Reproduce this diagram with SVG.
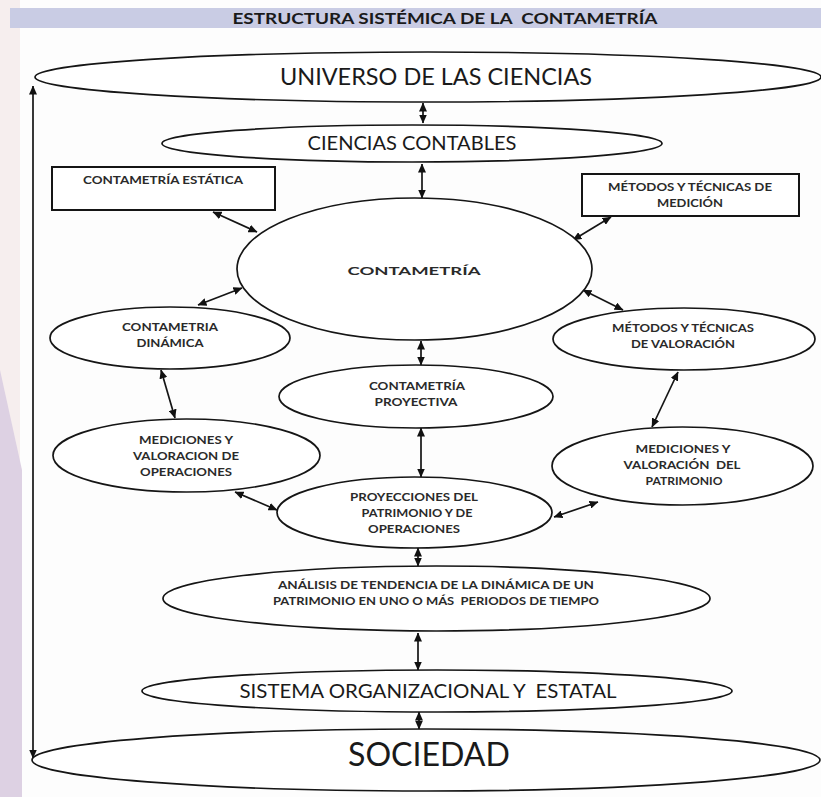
<svg xmlns="http://www.w3.org/2000/svg" width="821" height="797" viewBox="0 0 821 797">
<defs>
<marker id="ah" viewBox="0 0 9 8" refX="8.5" refY="4" markerWidth="9" markerHeight="8" markerUnits="userSpaceOnUse" orient="auto-start-reverse">
<path d="M0,0 L9,4 L0,8 z" fill="#111"/>
</marker>
<style>
.nd{fill:#fff;stroke:#151515;stroke-width:1.7}
.rc{fill:#fff;stroke:#151515;stroke-width:2}
.cn{stroke:#151515;stroke-width:1.7;fill:none;marker-start:url(#ah);marker-end:url(#ah)}
.sm{font-family:Lato,"Liberation Sans",sans-serif;font-weight:700;font-size:12px;fill:#2a2a2a;text-anchor:middle;white-space:pre}
.bg{font-family:Lato,"Liberation Sans",sans-serif;font-weight:400;fill:#1a1a1a;text-anchor:middle;white-space:pre}
</style>
</defs>
<rect x="0" y="0" width="821" height="797" fill="#fdfdfd"/>
<rect x="0" y="0" width="20" height="470" fill="#f6eeee"/>
<polygon points="0,370 22,470 22,797 0,797" fill="#ddd1e3"/>
<g id="title">
<rect x="10" y="8" width="811" height="20" fill="#c9cce4"/>
<text x="445" y="23.5" font-family="Lato,'Liberation Sans',sans-serif" font-weight="700" font-size="15" fill="#1a1a1a" text-anchor="middle" textLength="425" lengthAdjust="spacingAndGlyphs" style="white-space:pre">ESTRUCTURA SISTÉMICA DE LA  CONTAMETRÍA</text>
</g>
<g id="connectors">
<line class="cn" x1="33" y1="86" x2="33" y2="758"/>
<line class="cn" x1="423" y1="103" x2="423" y2="123"/>
<line class="cn" x1="422" y1="164" x2="422" y2="198"/>
<line class="cn" x1="213" y1="212" x2="257" y2="232"/>
<line class="cn" x1="611" y1="217" x2="573" y2="240"/>
<line class="cn" x1="242" y1="288" x2="198" y2="305"/>
<line class="cn" x1="583" y1="290" x2="623" y2="310"/>
<line class="cn" x1="421" y1="341" x2="421" y2="365"/>
<line class="cn" x1="161" y1="370" x2="175" y2="418"/>
<line class="cn" x1="678" y1="372" x2="652" y2="427"/>
<line class="cn" x1="421" y1="428" x2="421" y2="477"/>
<line class="cn" x1="235" y1="492" x2="277" y2="510"/>
<line class="cn" x1="554" y1="517" x2="598" y2="502"/>
<line class="cn" x1="418" y1="548" x2="418" y2="566"/>
<line class="cn" x1="418" y1="633" x2="418" y2="670"/>
<line class="cn" x1="419" y1="712" x2="419" y2="729"/>
</g>
<g id="universo">
<ellipse class="nd" cx="428" cy="77" rx="393" ry="25"/>
<text class="bg" x="436" y="85" font-size="23" textLength="312" lengthAdjust="spacingAndGlyphs">UNIVERSO DE LAS CIENCIAS</text>
</g>
<g id="ciencias-contables">
<ellipse class="nd" cx="412" cy="143.5" rx="250" ry="18.5"/>
<text class="bg" x="412" y="150" font-size="19" textLength="209" lengthAdjust="spacingAndGlyphs">CIENCIAS CONTABLES</text>
</g>
<g id="contametria-estatica">
<rect class="rc" x="52" y="167" width="223" height="43"/>
<text class="sm" x="163" y="184" textLength="160" lengthAdjust="spacingAndGlyphs">CONTAMETRÍA ESTÁTICA</text>
</g>
<g id="metodos-medicion">
<rect class="rc" x="582" y="174" width="217" height="42"/>
<text class="sm" x="690" y="191" textLength="164" lengthAdjust="spacingAndGlyphs">MÉTODOS Y TÉCNICAS DE</text>
<text class="sm" x="690" y="207" textLength="66" lengthAdjust="spacingAndGlyphs">MEDICIÓN</text>
</g>
<g id="contametria">
<ellipse class="nd" cx="414.5" cy="269" rx="177.5" ry="71"/>
<text class="sm" x="414" y="275" font-size="17" textLength="133" lengthAdjust="spacingAndGlyphs">CONTAMETRÍA</text>
</g>
<g id="contametria-dinamica">
<ellipse class="nd" cx="170" cy="338" rx="120" ry="31"/>
<text class="sm" x="170" y="331" textLength="96" lengthAdjust="spacingAndGlyphs">CONTAMETRIA</text>
<text class="sm" x="170" y="347" textLength="67" lengthAdjust="spacingAndGlyphs">DINÁMICA</text>
</g>
<g id="metodos-valoracion">
<ellipse class="nd" cx="684" cy="339" rx="131" ry="31"/>
<text class="sm" x="683" y="332" textLength="142" lengthAdjust="spacingAndGlyphs">MÉTODOS Y TÉCNICAS</text>
<text class="sm" x="683" y="348" textLength="104" lengthAdjust="spacingAndGlyphs">DE VALORACIÓN</text>
</g>
<g id="contametria-proyectiva">
<ellipse class="nd" cx="416" cy="396.5" rx="137" ry="31.5"/>
<text class="sm" x="417" y="390" textLength="96" lengthAdjust="spacingAndGlyphs">CONTAMETRÍA</text>
<text class="sm" x="416" y="406" textLength="83" lengthAdjust="spacingAndGlyphs">PROYECTIVA</text>
</g>
<g id="mediciones-operaciones">
<ellipse class="nd" cx="186.5" cy="455.5" rx="133.5" ry="36.5"/>
<text class="sm" x="186" y="444" textLength="94" lengthAdjust="spacingAndGlyphs">MEDICIONES Y</text>
<text class="sm" x="186" y="460" textLength="106" lengthAdjust="spacingAndGlyphs">VALORACION DE</text>
<text class="sm" x="186" y="476" textLength="92" lengthAdjust="spacingAndGlyphs">OPERACIONES</text>
</g>
<g id="mediciones-patrimonio">
<ellipse class="nd" cx="682.5" cy="466" rx="130.5" ry="39"/>
<text class="sm" x="683" y="453" textLength="95" lengthAdjust="spacingAndGlyphs">MEDICIONES Y</text>
<text class="sm" x="682" y="469" textLength="117" lengthAdjust="spacingAndGlyphs">VALORACIÓN  DEL</text>
<text class="sm" x="684" y="485" textLength="77" lengthAdjust="spacingAndGlyphs">PATRIMONIO</text>
</g>
<g id="proyecciones">
<ellipse class="nd" cx="414.5" cy="512.5" rx="137.5" ry="35.5"/>
<text class="sm" x="414" y="501" textLength="128" lengthAdjust="spacingAndGlyphs">PROYECCIONES DEL</text>
<text class="sm" x="417" y="517" textLength="111" lengthAdjust="spacingAndGlyphs">PATRIMONIO Y DE</text>
<text class="sm" x="414" y="533" textLength="92" lengthAdjust="spacingAndGlyphs">OPERACIONES</text>
</g>
<g id="analisis">
<ellipse class="nd" cx="436.5" cy="598.5" rx="273.5" ry="32.5"/>
<text class="sm" x="436" y="589" font-size="11.5" textLength="316" lengthAdjust="spacingAndGlyphs">ANÁLISIS DE TENDENCIA DE LA DINÁMICA DE UN</text>
<text class="sm" x="436" y="605" font-size="11.5" textLength="326" lengthAdjust="spacingAndGlyphs">PATRIMONIO EN UNO O MÁS  PERIODOS DE TIEMPO</text>
</g>
<g id="sistema">
<ellipse class="nd" cx="437" cy="691" rx="295" ry="21"/>
<text class="bg" x="428" y="698" font-size="19" textLength="377" lengthAdjust="spacingAndGlyphs">SISTEMA ORGANIZACIONAL Y  ESTATAL</text>
</g>
<g id="sociedad">
<ellipse class="nd" cx="426" cy="760" rx="394" ry="31"/>
<text class="bg" x="429" y="766" font-size="33" textLength="162" lengthAdjust="spacingAndGlyphs">SOCIEDAD</text>
</g>
</svg>
